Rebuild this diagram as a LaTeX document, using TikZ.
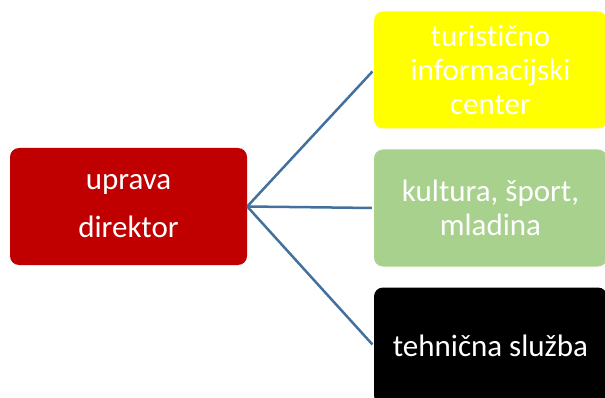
\documentclass[tikz,border=0pt]{standalone}
\usepackage{fontspec}
\setmainfont{Carlito}[Ligatures=CommonOff]
\usepackage{xcolor}
\usetikzlibrary{positioning}
\definecolor{upravared}{RGB}{192,0,0}
\definecolor{ticyellow}{RGB}{255,255,0}
\definecolor{kulturagreen}{RGB}{169,209,142}
\definecolor{vezablue}{RGB}{65,113,156}

\begin{document}
\begin{tikzpicture}[x=1pt,y=-1pt,
  box/.style={rounded corners=9pt, text=white, align=center, inner sep=0pt,
    minimum height=117pt, font=\fontsize{31}{34}\selectfont},
  veza/.style={draw=vezablue, line width=2.5pt}]
\useasboundingbox (0,0) rectangle (605,398);
\node[box, fill=upravared, minimum width=237pt] (uprava) at (128.5,206.5)
  {uprava\\[14pt]direktor};
\node[box, fill=ticyellow, minimum width=233pt] (tic) at (490.5,70)
  {turistično\\informacijski\\center};
\node[box, fill=kulturagreen, minimum width=233pt] (kultura) at (490.5,208)
  {kultura, šport,\\mladina};
\node[box, fill=black, minimum width=233pt] (tehnika) at (490.5,346)
  {tehnična služba};
%\draw (uprava) -- (tic);
\draw[veza, shorten >=2pt] (uprava.east) -- (tic.west);
\draw[veza, shorten >=2pt] (uprava.east) -- (kultura.west);
\draw[veza, shorten >=2pt] (uprava.east) -- (tehnika.west);
\end{tikzpicture}
\end{document}
